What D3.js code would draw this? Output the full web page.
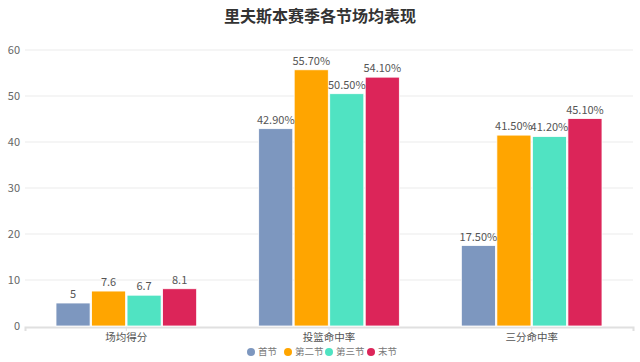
<!DOCTYPE html>
<html>
<head>
<meta charset="utf-8">
<script src="https://cdn.jsdelivr.net/npm/d3@7"></script>
<style>
  body { margin: 0; background: #fff; }
  svg { font-family: "Noto Sans CJK SC", "Noto Sans", sans-serif; }
</style>
</head>
<body>
<script>
// chart data
const categories = ["场均得分", "投篮命中率", "三分命中率"];
const seriesNames = ["首节", "第二节", "第三节", "末节"];
const seriesColors = ["#7d97bf", "#ffa500", "#50e3c2", "#dc2559"];
const values = [
  [5, 7.6, 6.7, 8.1],
  [42.9, 55.7, 50.5, 54.1],
  [17.5, 41.5, 41.2, 45.1]
];
const valueLabels = [
  ["5", "7.6", "6.7", "8.1"],
  ["42.90%", "55.70%", "50.50%", "54.10%"],
  ["17.50%", "41.50%", "41.20%", "45.10%"]
];
const yTicks = [0, 10, 20, 30, 40, 50, 60];

const chart_width = 640, chart_height = 362;
const margin = { top: 50, right: 7, bottom: 36, left: 25 };

const svg = d3.select("body").append("svg")
  .attr("width", chart_width)
  .attr("height", chart_height);

// title
svg.append("text")
  .attr("x", chart_width / 2)
  .attr("y", 22)
  .attr("text-anchor", "middle")
  .attr("font-size", 16)
  .attr("font-weight", "bold")
  .attr("fill", "#333")
  .text("里夫斯本赛季各节场均表现");

const x_scale = d3.scaleBand()
  .domain(categories)
  .range([margin.left, chart_width - margin.right]);

const groupPad = 31;
const x_inner = d3.scaleBand()
  .domain(seriesNames)
  .range([groupPad, x_scale.bandwidth() - groupPad])
  .paddingInner(0.04);

const y_scale = d3.scaleLinear()
  .domain([0, 60])
  .range([chart_height - margin.bottom, margin.top]);

// horizontal gridlines
svg.append("g")
  .selectAll("line")
  .data(yTicks.slice(1))
  .join("line")
  .attr("x1", margin.left)
  .attr("x2", chart_width - margin.right)
  .attr("y1", d => y_scale(d))
  .attr("y2", d => y_scale(d))
  .attr("stroke", "#ebebeb")
  .attr("stroke-width", 1);

// y tick labels
svg.append("g")
  .selectAll("text")
  .data(yTicks)
  .join("text")
  .attr("x", 20)
  .attr("y", d => y_scale(d))
  .attr("dy", "0.35em")
  .attr("text-anchor", "end")
  .attr("font-size", 11)
  .attr("fill", "#666")
  .text(d => d);

// x axis (drawn under the bars)
const x_axis = d3.axisBottom(x_scale).tickSize(4).tickPadding(3);
const xg = svg.append("g")
  .attr("transform", "translate(0," + (y_scale(0) + 1) + ")")
  .call(x_axis);
xg.select(".domain").attr("stroke", "#e0e0e0").attr("stroke-width", 2);
xg.selectAll(".tick line").attr("stroke", "#e0e0e0");
xg.selectAll("text").attr("font-size", 10.5).attr("fill", "#555")
  .attr("font-family", "Noto Sans CJK SC, sans-serif");

// bars
const groups = svg.append("g")
  .selectAll("g")
  .data(categories)
  .join("g")
  .attr("transform", d => "translate(" + x_scale(d) + ",0)");

groups.selectAll("rect")
  .data((d, i) => values[i].map((v, j) => ({ v: v, s: seriesNames[j], j: j })))
  .join("rect")
  .attr("x", d => x_inner(d.s))
  .attr("y", d => y_scale(d.v))
  .attr("width", x_inner.bandwidth())
  .attr("height", d => y_scale(0) - y_scale(d.v))
  .attr("fill", d => seriesColors[d.j])
  .attr("stroke", "#fff")
  .attr("stroke-width", 0.8);

groups.selectAll("text")
  .data((d, i) => values[i].map((v, j) => ({ v: v, s: seriesNames[j], label: valueLabels[i][j] })))
  .join("text")
  .attr("x", d => x_inner(d.s) + x_inner.bandwidth() / 2)
  .attr("y", d => y_scale(d.v) - 5)
  .attr("text-anchor", "middle")
  .attr("font-size", 11)
  .attr("fill", "#555")
  .text(d => d.label);

// legend
const legendX = [251, 288, 329, 371];
const legend = svg.append("g");
seriesNames.forEach((name, i) => {
  const item = legend.append("g").attr("transform", "translate(" + legendX[i] + ",352)");
  item.append("circle").attr("r", 4).attr("fill", seriesColors[i]);
  item.append("text")
    .attr("x", 7)
    .attr("dy", "0.35em")
    .attr("font-size", 9.5)
    .attr("fill", "#777")
    .text(name);
});
</script>
</body>
</html>
